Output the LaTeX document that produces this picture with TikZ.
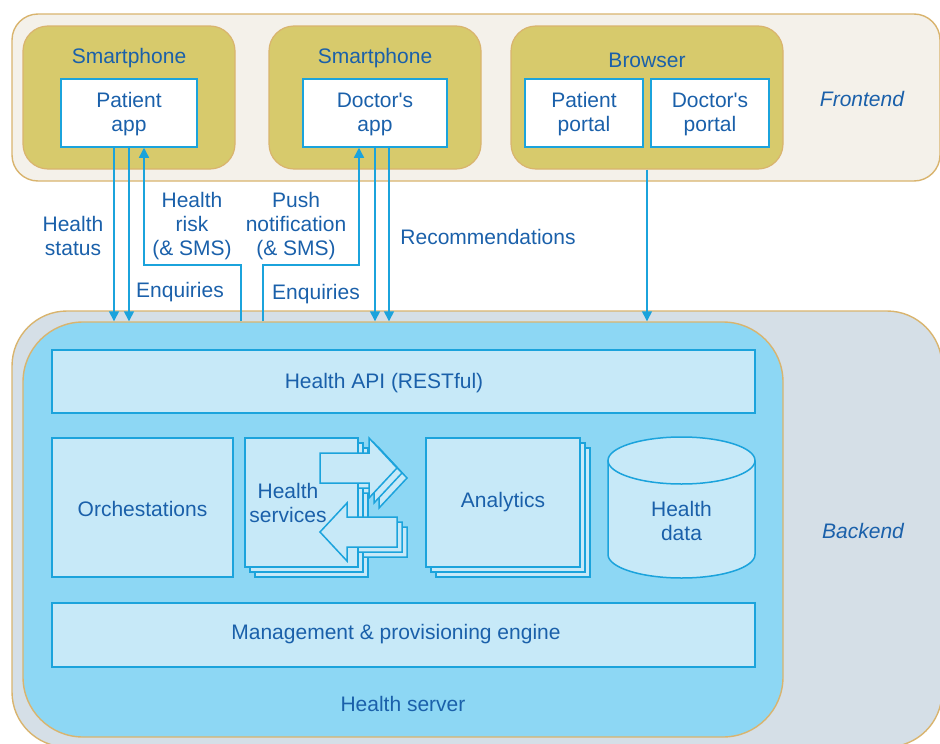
\documentclass[tikz,border=0pt]{standalone}
\usepackage{fontspec}
\setmainfont{Liberation Sans}
\usetikzlibrary{arrows.meta}
\definecolor{txt}{HTML}{1A60AA}
\definecolor{lineblue}{HTML}{1BA3DC}
\definecolor{tan}{HTML}{D9B46E}
\definecolor{frontbg}{HTML}{F4F1EA}
\definecolor{olive}{HTML}{D7CA6C}
\definecolor{backbg}{HTML}{D5DFE7}
\definecolor{serverbg}{HTML}{8DD7F4}
\definecolor{lightbg}{HTML}{C7E9F8}
\tikzset{
  zone/.style={draw=tan, line width=1.4pt, rounded corners=#1},
  devbox/.style={draw=tan, fill=olive, line width=1.2pt, rounded corners=25pt, minimum width=212pt, minimum height=143pt},
  appbox/.style={draw=lineblue, fill=white, line width=1.5pt, minimum height=68pt},
  lbox/.style={draw=lineblue, fill=lightbg, line width=1.5pt, text=txt, align=center},
  lbl/.style={text=txt, align=center, inner sep=0pt},
  conn/.style={draw=lineblue, line width=1.4pt},
  tip/.style={-{Triangle[width=10pt,length=10pt]}}
}
\begin{document}
\begin{tikzpicture}[x=1pt,y=-1pt,font=\fontsize{21}{24}\selectfont]
\useasboundingbox (0,0) rectangle (940,744);
% zones
\node[zone=26pt, fill=frontbg, minimum width=928pt, minimum height=167pt, inner sep=0pt] (front) at (476,97.5) {};
\node[zone=55pt, fill=backbg, minimum width=930pt, minimum height=436pt, inner sep=0pt] (back) at (477,529) {};
\node[zone=60pt, fill=serverbg, minimum width=760pt, minimum height=415pt, inner sep=0pt] (server) at (403,529.5) {};
% devices
\node[devbox] (phone1) at (129,97.5) {};
\node[devbox] (phone2) at (375,97.5) {};
\node[devbox, minimum width=272pt] (browser) at (647,97.5) {};
\node[lbl] (t1) at (129,58.5) {Smartphone};
\node[lbl] (t2) at (375,58.5) {Smartphone};
\node[lbl] (t3) at (647,60.5) {Browser};
\node[appbox, minimum width=136pt] (papp) at (129,113) {};
\node[appbox, minimum width=144pt] (dapp) at (375,113) {};
\node[appbox, minimum width=118pt] (pportal) at (584,113) {};
\node[appbox, minimum width=118pt] (dportal) at (710,113) {};
\node[lbl] (pappt) at (129,114) {Patient\\app};
\node[lbl] (dappt) at (375,114) {Doctor\textquotesingle s\\app};
\node[lbl] (pportalt) at (584,114) {Patient\\portal};
\node[lbl] (dportalt) at (710,114) {Doctor\textquotesingle s\\portal};
\node[lbl, font=\fontsize{21}{24}\selectfont\itshape] (fe) at (862,99) {Frontend};
\node[lbl, font=\fontsize{21}{24}\selectfont\itshape] (be) at (863,531) {Backend};
% connectors
\coordinate (xa) at (114,0);
\coordinate (xb) at (129,0);
\coordinate (hr1) at (241,265);
\coordinate (hr2) at (144,265);
\coordinate (pn1) at (263,265);
\coordinate (pn2) at (359,265);
\coordinate (xc) at (375,0);
\coordinate (xd) at (389,0);
\draw[conn, tip] (xa |- papp.south) -- (xa |- server.north);
\draw[conn, tip] (xb |- papp.south) -- (xb |- server.north);
\draw[conn, tip] (hr1 |- server.north) -- (hr1) -- (hr2) -- (hr2 |- papp.south);
\draw[conn, tip] (pn1 |- server.north) -- (pn1) -- (pn2) -- (pn2 |- dapp.south);
\draw[conn, tip] (xc |- dapp.south) -- (xc |- server.north);
\draw[conn, tip] (xd |- dapp.south) -- (xd |- server.north);
\draw[conn, tip] (browser.south) -- (browser.south |- server.north);
% connector labels
\node[lbl] (l1) at (73,236) {Health\\status};
\node[lbl] (l2) at (192,226) {Health\\risk\\(\& SMS)};
\node[lbl] (l3) at (296,226) {Push\\notification\\(\& SMS)};
\node[lbl] (l4) at (180,292.5) {Enquiries};
\node[lbl] (l5) at (316,294.5) {Enquiries};
\node[lbl] (l6) at (488,236.5) {Recommendations};
% backend content
\node[lbox, minimum width=703pt, minimum height=63pt] (api) at (403.5,381.5) {};
\node[lbl] (apit) at (384,383) {Health API (RESTful)};
\node[lbox, minimum width=181pt, minimum height=139pt] (orch) at (142.5,507.5) {};
\node[lbl] (orcht) at (142.5,509) {Orchestations};
\foreach \k in {10,5} {
  \begin{scope}[shift={(\k,\k)}]
    \draw[lbox] (245,438) rectangle (358,567);
    \draw[lbox] (320,453) -- (369,453) -- (369,438) -- (397,468) -- (369,498) -- (369,483) -- (320,483) -- cycle;
    \draw[lbox] (397,517) -- (347,517) -- (347,503) -- (320,532) -- (347,561) -- (347,547) -- (397,547) -- cycle;
  \end{scope}
}
\node[lbox, minimum width=113pt, minimum height=129pt] (hs) at (301.5,502.5) {};
\draw[lbox] (320,453) -- (369,453) -- (369,438) -- (397,468) -- (369,498) -- (369,483) -- (320,483) -- cycle;
\draw[lbox] (397,517) -- (347,517) -- (347,503) -- (320,532) -- (347,561) -- (347,547) -- (397,547) -- cycle;
\node[lbl] (hstext) at (288,503) {Health\\services};
\foreach \k in {10,5} {
  \draw[lbox] (426+\k,438+\k) rectangle (580+\k,567+\k);
}
\node[lbox, minimum width=154pt, minimum height=129pt] (ana) at (503,502.5) {};
\node[lbl] (anatext) at (503,502.5) {Analytics};
% cylinder
\draw[lbox] (608,460.5) -- (608,554.5) arc[start angle=180, end angle=360, x radius=73.5pt, y radius=23.5pt] -- (755,460.5);
\draw[lbox] (681.5,460.5) ellipse [x radius=73.5pt, y radius=23.5pt];
\node[lbl] (hdata) at (681.5,521) {Health\\data};
\node[lbox, minimum width=703pt, minimum height=64pt] (mgmt) at (403.5,635) {};
\node[lbl] (mgmtt) at (396,634.5) {Management \& provisioning engine};
\node[lbl] (srv) at (403,703.5) {Health server};
\end{tikzpicture}
\end{document}
